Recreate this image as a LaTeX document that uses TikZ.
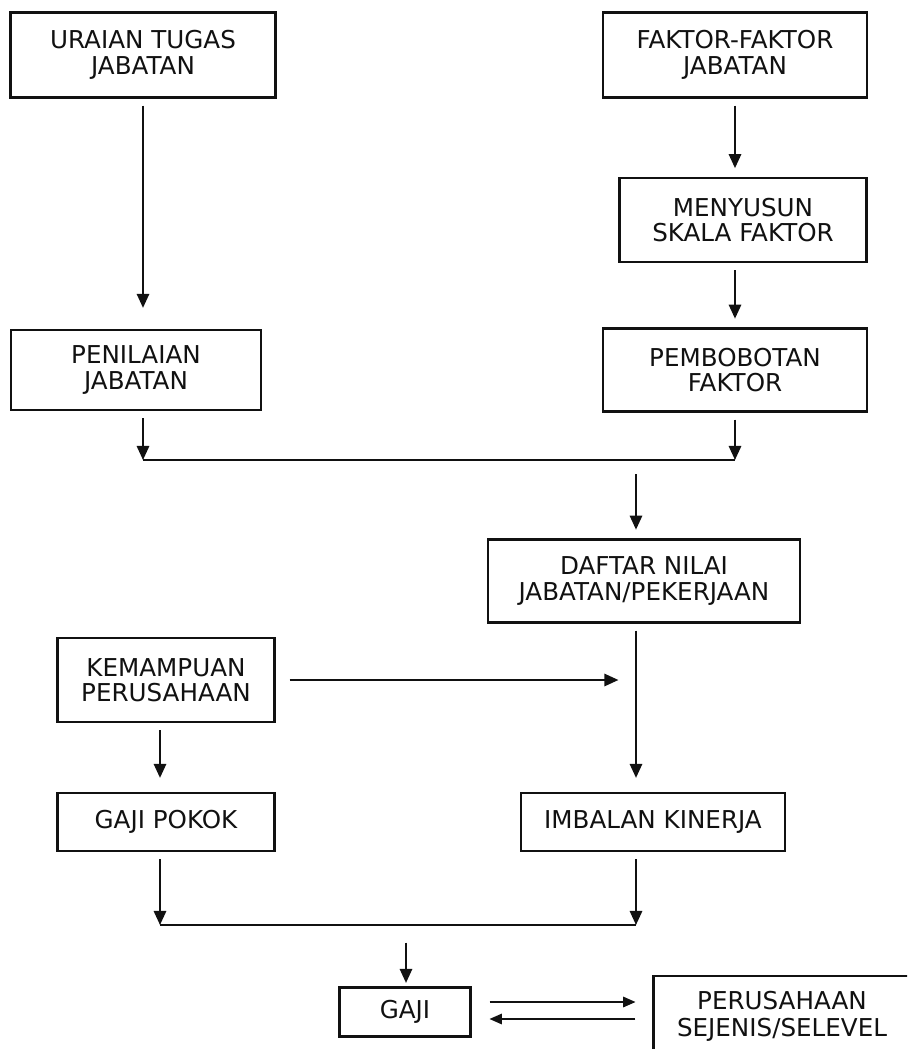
\documentclass[tikz,border=0pt]{standalone}
\usepackage{fontspec}
\setmainfont{DejaVu Sans}
\usepackage{tikz}
\usetikzlibrary{arrows.meta, positioning, calc}
\usepackage{xcolor}
\definecolor{FlowInk}{HTML}{111111}
\definecolor{FlowWhite}{HTML}{ffffff}
\tikzset{
    % Box style - plain sharp rectangles
    flowbox/.style={
        rectangle,
        draw=FlowInk,
        fill=FlowWhite,
        line width=1.2pt,
        inner sep=0pt,
        align=center,
        text=FlowInk,
        font=\fontsize{14}{14.5}\selectfont
    },
    % Arrow styles
    myarrow/.style={
        -{Triangle[length=8pt,width=7pt]},
        line width=1.2pt,
        shorten <=4pt,
        shorten >=5pt,
        FlowInk
    },
    thinarrow/.style={
        -{Triangle[length=7pt,width=6pt]},
        line width=0.7pt,
        FlowInk
    },
    joinline/.style={
        line width=1.2pt,
        FlowInk
    }
}

\begin{document}
\begin{tikzpicture}[x=0.02cm, y=-0.02cm]
    \useasboundingbox (0,0) rectangle (907,1049);
    \clip (0,0) rectangle (907,1049);

    % Job analysis boxes
    \node[flowbox, minimum width=5.3cm, minimum height=1.7cm] (uraian) at (143,55) {URAIAN TUGAS\\JABATAN};
    \node[flowbox, minimum width=5.28cm, minimum height=1.7cm] (faktor) at (735,55) {FAKTOR-FAKTOR\\JABATAN};
    \node[flowbox, minimum width=4.94cm, minimum height=1.68cm] (skala) at (743,220) {MENYUSUN\\SKALA FAKTOR};
    \node[flowbox, minimum width=5cm, minimum height=1.6cm] (penilaian) at (136,370) {PENILAIAN\\JABATAN};
    \node[flowbox, minimum width=5.28cm, minimum height=1.66cm] (bobot) at (735,370) {PEMBOBOTAN\\FAKTOR};

    % Job value list
    \node[flowbox, minimum width=6.24cm, minimum height=1.66cm] (daftar) at (644,581) {DAFTAR NILAI\\JABATAN/PEKERJAAN};

    % Pay components
    \node[flowbox, minimum width=4.34cm, minimum height=1.68cm] (kemampuan) at (166,680) {KEMAMPUAN\\PERUSAHAAN};
    \node[flowbox, minimum width=4.34cm, minimum height=1.16cm] (gajipokok) at (166,822) {GAJI POKOK};
    \node[flowbox, minimum width=5.28cm, minimum height=1.16cm] (imbalan) at (653,822) {IMBALAN KINERJA};

    % Result and comparison
    \node[flowbox, minimum width=2.62cm, minimum height=0.98cm] (gaji) at (405,1012) {GAJI};
    \node[flowbox, minimum width=5.14cm, minimum height=1.6cm,
          font=\fontsize{14}{15.5}\selectfont] (perusahaan) at (782,1016) {PERUSAHAAN\\SEJENIS/SELEVEL};

    % Junction points
    \coordinate (jtop) at (636,460);
    \coordinate (jbot) at (406,925);
    \coordinate (colL) at (160,0);

    % Upper part
    \draw[myarrow, shorten >=12pt] (uraian.south) -- (uraian.south |- penilaian.north);
    \draw[myarrow] (faktor.south) -- (faktor.south |- skala.north);
    \draw[myarrow] (faktor.south |- skala.south) -- (faktor.south |- bobot.north);
    \draw[myarrow, shorten >=0pt] (uraian.south |- penilaian.south) -- (uraian.south |- jtop);
    \draw[myarrow, shorten >=0pt] (faktor.south |- bobot.south) -- (faktor.south |- jtop);
    \draw[joinline] (uraian.south |- jtop) -- (faktor.south |- jtop);
    \draw[myarrow] ([yshift=-4pt]jtop) -- (jtop |- daftar.north);

    % Middle part
    \draw[myarrow, shorten >=8pt] (jtop |- daftar.south) -- (jtop |- imbalan.north);
    \draw[myarrow, shorten <=8pt, shorten >=10pt] (kemampuan.east) -- (kemampuan.east -| jtop);
    \draw[myarrow, shorten >=8pt] (colL |- kemampuan.south) -- (colL |- gajipokok.north);

    % Lower part
    \draw[myarrow, shorten >=0pt] (colL |- gajipokok.south) -- (colL |- jbot);
    \draw[myarrow, shorten >=0pt] (jtop |- imbalan.south) -- (jtop |- jbot);
    \draw[joinline] (colL |- jbot) -- (jtop |- jbot);
    \draw[myarrow, shorten >=2pt] ([yshift=-6pt]jbot) -- (jbot |- gaji.north);

    % Comparison arrows
    \draw[thinarrow] ($(gaji.east)+(18,-10)$) -- ($(perusahaan.west |- gaji.east)+(-17,-10)$);
    \draw[thinarrow] ($(perusahaan.west |- gaji.east)+(-17,7)$) -- ($(gaji.east)+(18,7)$);
\end{tikzpicture}
\end{document}
